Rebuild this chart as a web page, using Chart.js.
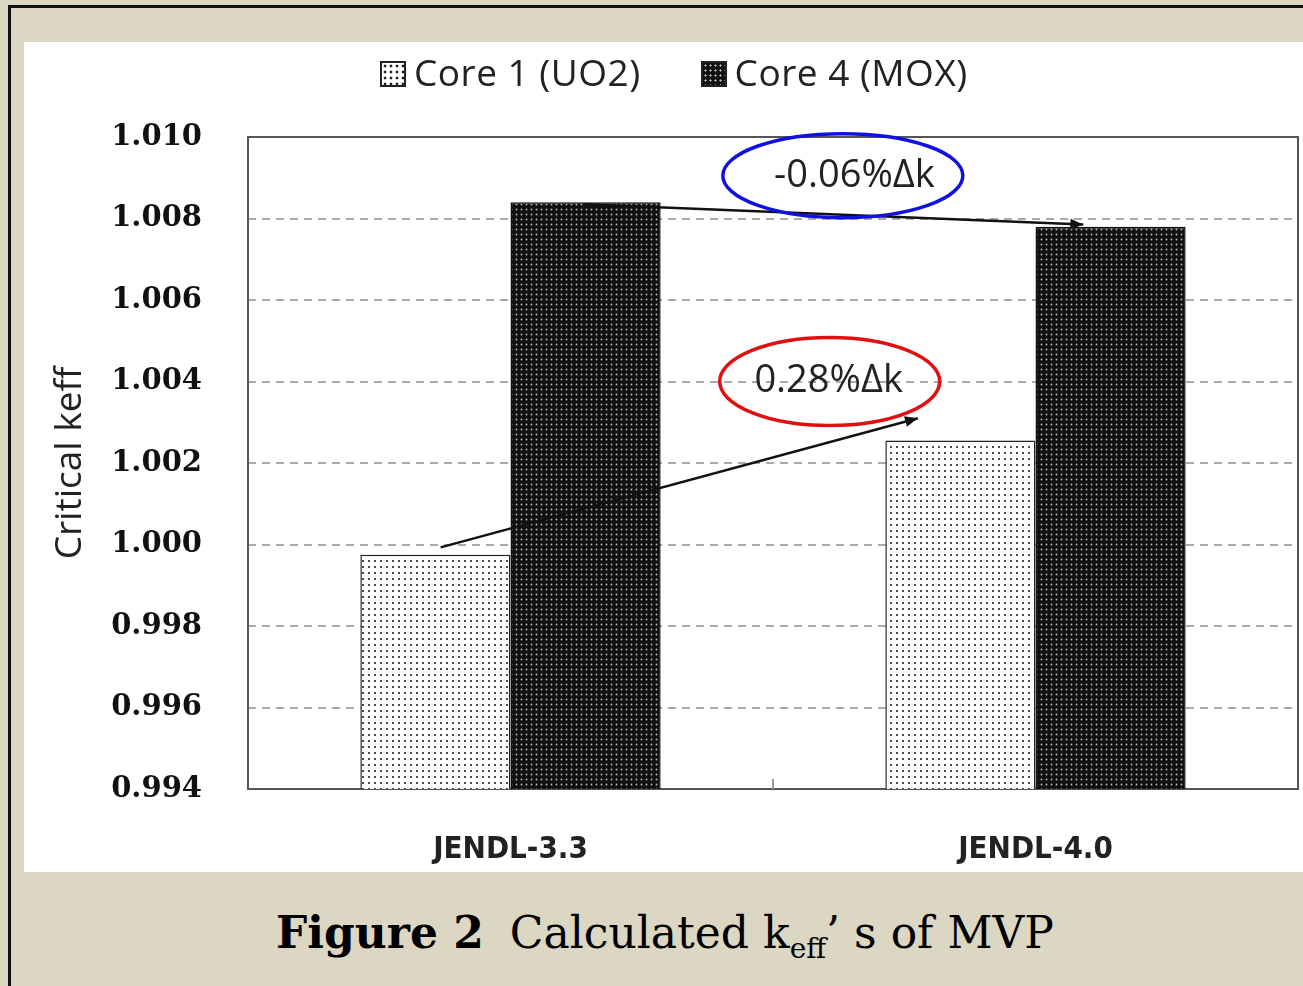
<!DOCTYPE html>
<html>
<head>
<meta charset="utf-8">
<script src="https://cdn.jsdelivr.net/npm/chart.js@4"></script>
<style>
  body { margin: 0; background: #dcd7c2; width: 1303px; height: 986px; overflow: hidden; position: relative; }
  #frame { position: absolute; left: 8px; top: 5px; width: 1300px; height: 990px; border-left: 3px solid #111; border-top: 3px solid #111; }
  #panel { position: absolute; left: 24px; top: 42px; width: 1279px; height: 830px; background: #fff; }
  #legend { position: absolute; left: 380px; top: 46px; font-family: "Open Sans", sans-serif; font-size: 37px; color: #222; display: flex; gap: 60px; letter-spacing: 0.5px; }
  #legend span.box { display: inline-block; width: 22px; height: 22px; border: 2px solid #222; margin-right: 8px; vertical-align: -1px; }
  #caption { position: absolute; left: 276px; top: 907px; font-family: "DejaVu Serif", serif; font-size: 44px; color: #000; white-space: nowrap; }
  #caption b { margin-right: 26px; }
  sub { font-size: 28px; }
</style>
</head>
<body>
<div id="frame"></div>
<div id="panel"><canvas id="c" width="1279" height="830"></canvas></div>
<div id="legend">
  <div><span class="box" id="lb1"></span>Core 1 (UO2)</div>
  <div><span class="box" id="lb2"></span>Core 4 (MOX)</div>
</div>
<div id="caption"><b>Figure 2</b>Calculated k<sub>eff</sub>’ s of MVP</div>
<script>
const categories = ['JENDL-3.3', 'JENDL-4.0'];
const seriesNames = ['Core 1 (UO2)', 'Core 4 (MOX)'];
const core1 = [0.99975, 1.00255];
const core4 = [1.0084, 1.0078];
const yTicks = [0.994, 0.996, 0.998, 1.000, 1.002, 1.004, 1.006, 1.008, 1.010];

function dotPattern(bg, dot, step, r) {
  const p = document.createElement('canvas');
  p.width = step; p.height = step;
  const g = p.getContext('2d');
  g.fillStyle = bg; g.fillRect(0, 0, step, step);
  g.fillStyle = dot;
  g.beginPath(); g.arc(step / 2, step / 2, r, 0, Math.PI * 2); g.fill();
  return document.getElementById('c').getContext('2d').createPattern(p, 'repeat');
}
const pat1 = dotPattern('#ffffff', '#222', 6, 1.1);
const pat2 = dotPattern('#111111', '#bbb', 5, 0.9);
document.getElementById('lb1').style.background = 'radial-gradient(#222 30%, #fff 40%) 0 0/6px 6px';
document.getElementById('lb2').style.background = 'radial-gradient(#bbb 25%, #111 35%) 0 0/5px 5px';

function arrow(ctx, x1, y1, x2, y2) {
  ctx.beginPath(); ctx.moveTo(x1, y1); ctx.lineTo(x2, y2); ctx.stroke();
  const a = Math.atan2(y2 - y1, x2 - x1);
  ctx.beginPath();
  ctx.moveTo(x2, y2);
  ctx.lineTo(x2 - 14 * Math.cos(a - 0.4), y2 - 14 * Math.sin(a - 0.4));
  ctx.lineTo(x2 - 14 * Math.cos(a + 0.4), y2 - 14 * Math.sin(a + 0.4));
  ctx.closePath(); ctx.fill();
}

const annot = {
  id: 'annot',
  afterDatasetsDraw(chart) {
    const { ctx, scales: { x, y } } = chart;
    const cw = x.getPixelForValue(1) - x.getPixelForValue(0);
    const px = (i, f) => x.getPixelForValue(i) + f * cw;
    ctx.save();
    ctx.strokeStyle = '#999'; ctx.lineWidth = 2;
    ctx.beginPath(); ctx.moveTo(px(0, 0.5), y.bottom); ctx.lineTo(px(0, 0.5), y.bottom - 10); ctx.stroke();
    ctx.strokeStyle = '#111'; ctx.fillStyle = '#111'; ctx.lineWidth = 2.5;
    arrow(ctx, px(0, -0.133), y.getPixelForValue(0.99993), px(0, 0.776), y.getPixelForValue(1.0031));
    arrow(ctx, px(0, 0.139), y.getPixelForValue(1.00835), px(0, 1.091), y.getPixelForValue(1.00785));
    ctx.lineWidth = 3.5;
    ctx.strokeStyle = '#1010e0';
    ctx.beginPath(); ctx.ellipse(px(0, 0.633), y.getPixelForValue(1.00905), 120, 42, 0, 0, Math.PI * 2); ctx.stroke();
    ctx.strokeStyle = '#e01010';
    ctx.beginPath(); ctx.ellipse(px(0, 0.608), y.getPixelForValue(1.00400), 110, 44, 0, 0, Math.PI * 2); ctx.stroke();
    ctx.fillStyle = '#222';
    ctx.font = '38px "Open Sans", sans-serif';
    ctx.textAlign = 'center'; ctx.textBaseline = 'middle';
    ctx.fillText('-0.06%Δk', px(0, 0.655), y.getPixelForValue(1.00905));
    ctx.fillText('0.28%Δk', px(0, 0.606), y.getPixelForValue(1.00400));
    ctx.restore();
  }
};

new Chart(document.getElementById('c'), {
  type: 'bar',
  data: {
    labels: categories,
    datasets: [
      { label: seriesNames[0], data: core1, backgroundColor: pat1, borderColor: '#222', borderWidth: 1.5 },
      { label: seriesNames[1], data: core4, backgroundColor: pat2, borderColor: '#111', borderWidth: 1.5 }
    ]
  },
  options: {
    responsive: false,
    animation: false,
    categoryPercentage: 0.572,
    barPercentage: 1,
    layout: { padding: { top: 95, right: 5, bottom: 0, left: 24 } },
    plugins: { legend: { display: false }, tooltip: { enabled: false } },
    scales: {
      x: {
        afterFit(s) { s.height = 83; },
        grid: { display: false },
        border: { color: '#555', width: 2 },
        ticks: { color: '#222', font: { family: 'DejaVu Sans Condensed', size: 31, weight: 'bold' }, padding: 34 }
      },
      y: {
        min: 0.994, max: 1.010,
        afterFit(s) { s.width = 200; },
        afterBuildTicks(s) { s.ticks = yTicks.map(v => ({ value: v })); },
        grid: { color: ctx => (ctx.index === 0 || ctx.index === yTicks.length - 1) ? '#555' : '#aaa', lineWidth: 2, drawTicks: false },
        border: { color: '#555', width: 2, dash: [] },
        ticks: {
          color: '#111', padding: 46,
          font: { family: 'DejaVu Serif', size: 29, weight: 'bold' },
          callback: v => v.toFixed(3)
        },
        title: { display: true, text: 'Critical keff', color: '#222', font: { family: 'Open Sans', size: 37 }, padding: 0 }
      }
    }
  },
  plugins: [annot, {
    id: 'frameAndDash',
    beforeDatasetsDraw(chart) {
      const { ctx, chartArea: a, scales: { y } } = chart;
      ctx.save();
      ctx.fillStyle = '#fff';
      yTicks.slice(1, -1).forEach(v => {
        const py = y.getPixelForValue(v);
        for (let xx = a.left; xx < a.right; xx += 14) ctx.fillRect(xx + 8, py - 2, 6, 4);
      });
      ctx.strokeStyle = '#555'; ctx.lineWidth = 2;
      ctx.strokeRect(a.left, a.top, a.right - a.left, a.bottom - a.top);
      ctx.restore();
    }
  }]
});
</script>
</body>
</html>
